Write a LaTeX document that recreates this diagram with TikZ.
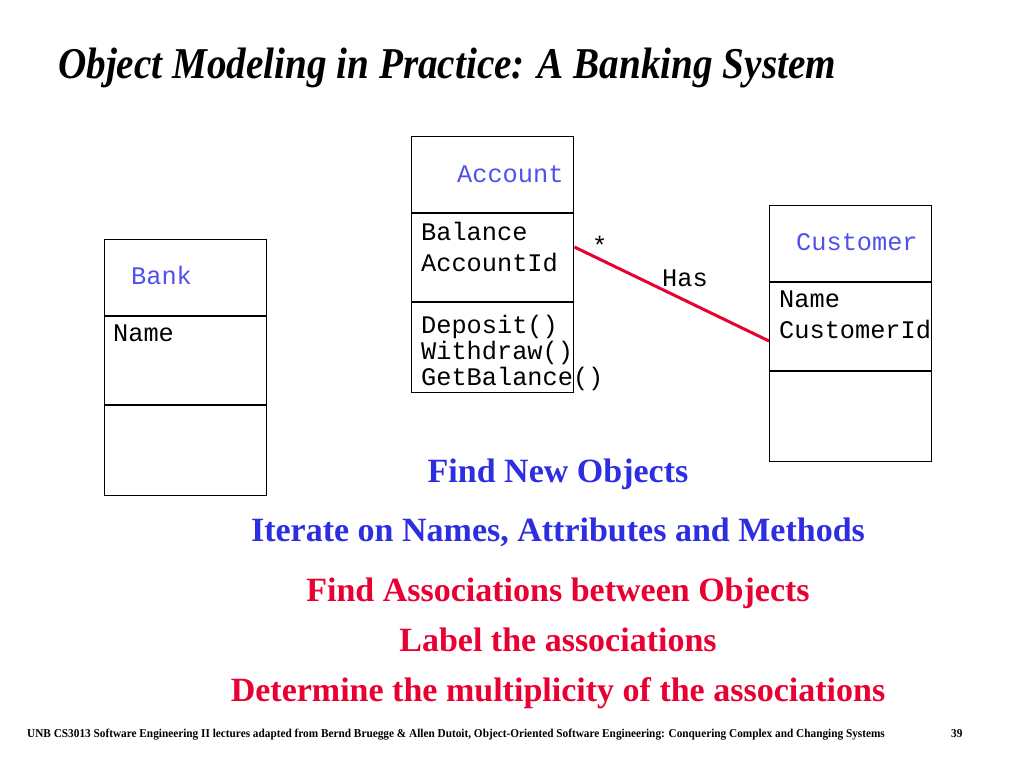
\documentclass[tikz,border=0pt]{standalone}
\usepackage{fontspec}
\setmainfont{Liberation Serif}
\newfontfamily\monof{Liberation Mono}
\newfontfamily\condf[FakeStretch=0.89]{Liberation Serif}
\newfontfamily\footf[FakeStretch=0.94]{Liberation Serif}
\definecolor{clsblue}{RGB}{80,80,235}
\definecolor{txtblue}{RGB}{45,45,225}
\definecolor{txtred}{RGB}{232,0,50}
\begin{document}
\begin{tikzpicture}[x=1pt,y=-1pt,
  cls/.style={draw=black, line width=1.4pt, minimum width=162pt, minimum height=256pt, inner sep=0pt, anchor=north west},
  mono/.style={font=\monof\fontsize{25.3}{27}\selectfont, anchor=base west, inner sep=0pt},
  cname/.style={mono, text=clsblue},
  bul/.style={font=\bfseries\fontsize{34}{37}\selectfont, anchor=base, inner sep=0pt},
  divider/.style={line width=1.4pt}]
\useasboundingbox (0,0) rectangle (1024,768);
% title
\node[anchor=base west, inner sep=0pt, font=\condf\bfseries\itshape\fontsize{44}{48}\selectfont] (title) at (58,78) {Object Modeling in Practice: A Banking System};
% Bank
\node[cls] (bank) at (104,239) {};
\draw[divider] (104,316) -- (266,316);
\draw[divider] (104,405) -- (266,405);
\node[cname] (bankn) at (131,284) {Bank};
\node[mono] (bankname) at (113,341) {Name};
% Account
\node[cls] (acc) at (411,136) {};
\draw[divider] (411,213) -- (573,213);
\draw[divider] (411,302) -- (573,302);
\node[cname] (accn) at (457,182) {Account};
\node[mono] (bal) at (421,240) {Balance};
\node[mono] (accid) at (421,271) {AccountId};
\node[mono] (dep) at (421,333) {Deposit()};
\node[mono] (wd) at (421,359) {Withdraw()};
\node[mono] (gb) at (421,385) {GetBalance()};
% Customer
\node[cls] (cust) at (769,205) {};
\draw[divider] (769,282) -- (931,282);
\draw[divider] (769,371) -- (931,371);
\node[cname] (custn) at (796,250) {Customer};
\node[mono] (cname2) at (779,307) {Name};
\node[mono] (cid) at (779,338) {CustomerId};
% association
\coordinate (aend) at ([yshift=-111pt]acc.north east);
\coordinate (cend) at ([yshift=-136pt]cust.north west);
\draw[txtred, line width=3pt] (aend) -- (cend);
\node[mono] (star) at (592,254) {*};
\node[mono] (has) at (662,286) {Has};
% bullets
\node[bul, text=txtblue] (b1) at (558,482) {Find New Objects};
\node[bul, text=txtblue] (b2) at (558,541) {Iterate on Names, Attributes and Methods};
\node[bul, text=txtred] (b3) at (558,601) {Find Associations between Objects};
\node[bul, text=txtred] (b4) at (558,651) {Label the associations};
\node[bul, text=txtred] (b5) at (558,701) {Determine the multiplicity of the associations};
% footer
\node[anchor=base west, inner sep=0pt, font=\footf\bfseries\fontsize{12}{14}\selectfont] (foot) at (27,737) {UNB CS3013 Software Engineering II lectures adapted from Bernd Bruegge \& Allen Dutoit, Object-Oriented Software Engineering: Conquering Complex and Changing Systems};
\node[anchor=base west, inner sep=0pt, font=\footf\bfseries\fontsize{12}{14}\selectfont] (page) at (951,737) {39};
\end{tikzpicture}
\end{document}
